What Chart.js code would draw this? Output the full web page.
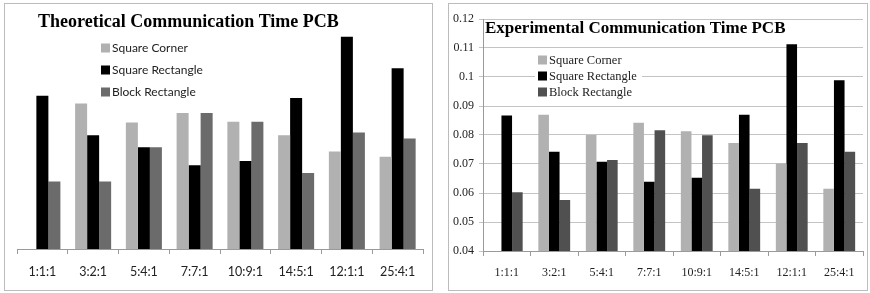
<!DOCTYPE html>
<html lang="en">
<head>
    <meta charset="UTF-8">
    <title>Communication Time PCB</title>
    <script src="https://cdn.jsdelivr.net/npm/chart.js"></script>
    <style>
        body {
            margin: 0;
            background-color: white;
            width: 870px;
            height: 293px;
            position: relative;
            overflow: hidden;
        }
        .frame {
            position: absolute;
            border: 1px solid #bcbcbc;
            box-sizing: border-box;
        }
        #leftFrame { left: 4px; top: 3px; width: 429px; height: 288px; }
        #rightFrame { left: 448px; top: 3px; width: 420px; height: 288px; }
        .frame canvas { position: absolute; left: 0; top: 0; }
    </style>
</head>
<body>
    <div id="leftFrame" class="frame"><canvas id="theoChart" width="427" height="286"></canvas></div>
    <div id="rightFrame" class="frame"><canvas id="expChart" width="418" height="286"></canvas></div>
    <script>
        const ratios = ['1:1:1', '3:2:1', '5:4:1', '7:7:1', '10:9:1', '14:5:1', '12:1:1', '25:4:1'];
        const seriesNames = ['Square Corner', 'Square Rectangle', 'Block Rectangle'];

        // theoretical chart has no visible value axis, values estimated on the same scale
        const theoSquareCorner = [null, 0.0906, 0.0840, 0.0873, 0.0843, 0.0796, 0.0739, 0.0721];
        const theoSquareRect = [0.0933, 0.0796, 0.0754, 0.0691, 0.0706, 0.0925, 0.1138, 0.1029];
        const theoBlockRect = [0.0635, 0.0635, 0.0754, 0.0873, 0.0843, 0.0664, 0.0805, 0.0784];

        const expSquareCorner = [null, 0.0870, 0.0800, 0.0842, 0.0813, 0.0772, 0.0702, 0.0615];
        const expSquareRect = [0.0867, 0.0742, 0.0708, 0.0639, 0.0653, 0.0870, 0.1113, 0.0989];
        const expBlockRect = [0.0603, 0.0576, 0.0714, 0.0816, 0.0799, 0.0615, 0.0772, 0.0742];

        const yTicks = [0.04, 0.05, 0.06, 0.07, 0.08, 0.09, 0.1, 0.11, 0.12];

        // draws the title and the legend inside the plot, like the spreadsheet did
        const overlayPlugin = {
            id: 'overlay',
            afterDraw(chart, args, opts) {
                const ctx = chart.ctx;
                ctx.save();
                if (opts.legendBg) {
                    ctx.fillStyle = 'white';
                    ctx.fillRect(opts.legendBg[0], opts.legendBg[1], opts.legendBg[2], opts.legendBg[3]);
                }
                ctx.textBaseline = 'middle';
                ctx.textAlign = 'left';
                ctx.font = opts.legendFont;
                chart.data.datasets.forEach((ds, i) => {
                    const y = opts.legendY + i * opts.legendGap;
                    ctx.fillStyle = ds.backgroundColor;
                    ctx.fillRect(opts.legendX, y - 4.5, 9, 9);
                    ctx.fillStyle = '#222';
                    ctx.fillText(ds.label, opts.legendX + 11, y + 0.5);
                });
                ctx.font = opts.titleFont;
                ctx.textBaseline = 'alphabetic';
                ctx.fillStyle = '#000';
                ctx.fillText(opts.title, opts.titleX, opts.titleY);
                ctx.restore();
            }
        };

        function makeChart(id, values, cfg) {
            const colors = ['#b1b1b1', '#000000', cfg.blockColor];
            return new Chart(document.getElementById(id), {
                type: 'bar',
                data: {
                    labels: ratios,
                    datasets: seriesNames.map((name, i) => ({
                        label: name,
                        data: values[i],
                        backgroundColor: colors[i],
                        barPercentage: 1,
                        categoryPercentage: cfg.catPct
                    }))
                },
                options: {
                    responsive: false,
                    animation: false,
                    layout: { padding: cfg.padding },
                    plugins: {
                        legend: { display: false },
                        tooltip: { enabled: false },
                        overlay: cfg.overlay
                    },
                    scales: {
                        x: {
                            grid: { display: true, drawOnChartArea: false, offset: true, color: '#9a9a9a', tickLength: 5 },
                            border: { color: '#9a9a9a' },
                            ticks: { color: '#222', font: cfg.tickFont, padding: cfg.xPad, maxRotation: 0 },
                            afterFit: s => { s.height = cfg.xHeight; }
                        },
                        y: {
                            display: cfg.showY,
                            min: 0.04,
                            max: 0.12,
                            afterBuildTicks: s => { s.ticks = yTicks.map(v => ({ value: v })); },
                            grid: { color: '#c4c4c4', tickLength: 4 },
                            border: { color: '#9a9a9a' },
                            ticks: {
                                color: '#222',
                                font: cfg.tickFont,
                                padding: 5,
                                callback: v => String(Math.round(v * 100) / 100)
                            },
                            afterFit: s => { s.width = cfg.yWidth; }
                        }
                    }
                },
                plugins: [overlayPlugin]
            });
        }

        makeChart('theoChart', [theoSquareCorner, theoSquareRect, theoBlockRect], {
            blockColor: '#6b6b6b',
            catPct: 0.71,
            padding: { left: 12, right: 9, top: 15, bottom: 0 },
            showY: false,
            yWidth: 0,
            xHeight: 41,
            xPad: 10,
            tickFont: { family: 'Lato', size: 12.5 },
            overlay: {
                title: 'Theoretical Communication Time PCB',
                titleFont: 'bold 18px "Liberation Serif"',
                titleX: 33,
                titleY: 23,
                legendX: 96,
                legendY: 44,
                legendGap: 22,
                legendFont: '12px Lato'
            }
        });

        makeChart('expChart', [expSquareCorner, expSquareRect, expBlockRect], {
            blockColor: '#505050',
            catPct: 0.67,
            padding: { left: 0, right: 4, top: 15, bottom: 0 },
            showY: true,
            yWidth: 34,
            xHeight: 39,
            xPad: 10,
            tickFont: { family: 'Liberation Serif', size: 12 },
            overlay: {
                title: 'Experimental Communication Time PCB',
                titleFont: 'bold 17px "Liberation Serif"',
                titleX: 36,
                titleY: 29,
                legendBg: [86, 50, 107, 50],
                legendX: 89,
                legendY: 56,
                legendGap: 16,
                legendFont: '12.5px "Liberation Serif"'
            }
        });
    </script>
</body>
</html>
